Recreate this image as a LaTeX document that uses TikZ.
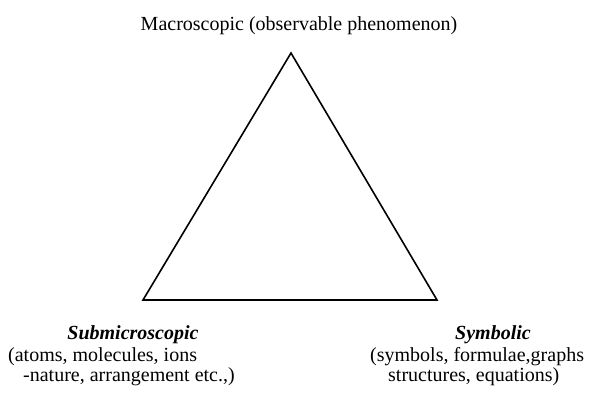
\documentclass[tikz,border=0pt]{standalone}
\usepackage{fontspec}
\setmainfont{Liberation Serif}
\usetikzlibrary{positioning}
\tikzset{
  lbl/.style={font=\fontsize{20}{20}\selectfont,inner sep=0pt,anchor=base},
  head/.style={lbl,font=\fontsize{20}{20}\selectfont\bfseries\itshape},
  desc/.style={lbl,align=left,anchor=base west},
  side/.style={line width=1.6pt,line join=miter},
}

\begin{document}
\begin{tikzpicture}[x=1pt,y=-1pt]
  \useasboundingbox (0,0) rectangle (590,392);
  \coordinate (top) at (291,53);
  \coordinate (left) at (143,300);
  \coordinate (right) at (437,300);
  \draw[side] (top) -- (left) -- (right) -- cycle;
  \node[lbl] (macro) at (299,30) {Macroscopic (observable phenomenon)};
  \node[head] (submicro) at (133,339) {Submicroscopic};
  % base of a two-line node sits on its last line
  \node[desc] (submicrotxt) at (8,381) {(atoms, molecules, ions\\\hspace{15pt}-nature, arrangement etc.,)};
  \node[head] (symb) at (493,339) {Symbolic};
  \node[desc] (symbtxt) at (370,381) {(symbols, formulae,graphs\\\hspace{18pt}structures, equations)};
\end{tikzpicture}
\end{document}
